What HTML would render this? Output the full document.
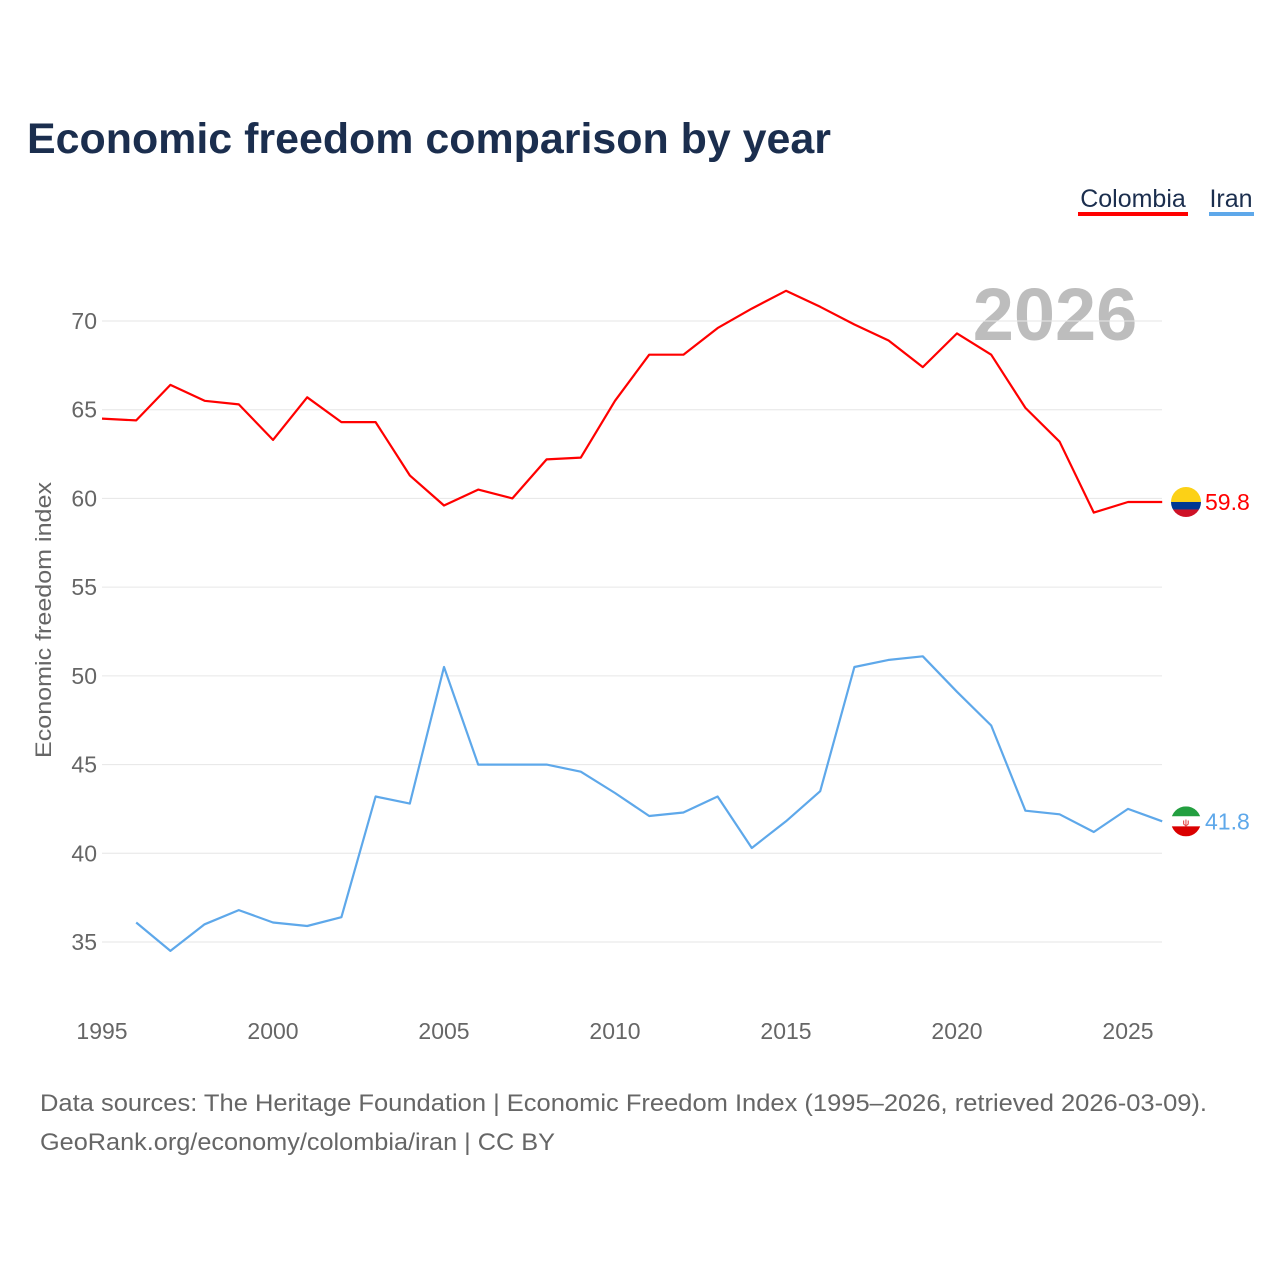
<!DOCTYPE html>
<html><head><meta charset="utf-8">
<style>
body{margin:0;background:#fff;font-family:"Liberation Sans",sans-serif;}
svg{display:block}
</style></head>
<body>
<svg id="chart" width="1280" height="1280" viewBox="0 0 1280 1280">
<text x="27" y="153" font-size="43" font-weight="bold" fill="#1b2e4e" textLength="804" lengthAdjust="spacingAndGlyphs">Economic freedom comparison by year</text>
<g>
<text x="1133" y="207" font-size="25" fill="#1b2e4e" text-anchor="middle">Colombia</text>
<rect x="1078" y="212" width="110" height="4" fill="#ff0000"/>
<text x="1231" y="207" font-size="25" fill="#1b2e4e" text-anchor="middle">Iran</text>
<rect x="1209" y="212" width="45" height="4" fill="#5ea8ea"/>
</g>
<text x="1055" y="340" font-size="74" font-weight="bold" fill="#bdbdbd" text-anchor="middle">2026</text>
<g id="grid"></g>
<g id="series"></g>
<text transform="translate(51,620) rotate(-90)" font-size="22" fill="#666" text-anchor="middle" textLength="276" lengthAdjust="spacingAndGlyphs">Economic freedom index</text>
<text x="40" y="1111" font-size="24" fill="#666" textLength="1167" lengthAdjust="spacingAndGlyphs">Data sources: The Heritage Foundation | Economic Freedom Index (1995–2026, retrieved 2026-03-09).</text>
<text x="40" y="1150" font-size="24" fill="#666" textLength="515" lengthAdjust="spacingAndGlyphs">GeoRank.org/economy/colombia/iran | CC BY</text>
</svg>
<script>
const years=[1995,1996,1997,1998,1999,2000,2001,2002,2003,2004,2005,2006,2007,2008,2009,2010,2011,2012,2013,2014,2015,2016,2017,2018,2019,2020,2021,2022,2023,2024,2025,2026];
const colombia=[64.5,64.4,66.4,65.5,65.3,63.3,65.7,64.3,64.3,61.3,59.6,60.5,60.0,62.2,62.3,65.5,68.1,68.1,69.6,70.7,71.7,70.8,69.8,68.9,67.4,69.3,68.1,65.1,63.2,59.2,59.8,59.8];
const iran=[null,36.1,34.5,36.0,36.8,36.1,35.9,36.4,43.2,42.8,50.5,45.0,45.0,45.0,44.6,43.4,42.1,42.3,43.2,40.3,41.8,43.5,50.5,50.9,51.1,49.1,47.2,42.4,42.2,41.2,42.5,41.8];
const yTicks=[35,40,45,50,55,60,65,70];
const xTicks=[1995,2000,2005,2010,2015,2020,2025];
const NS="http://www.w3.org/2000/svg";
const X=y=>102+(y-1995)*(1026/30);
const Y=v=>321+(70-v)*(621/35);
function mk(tag,attrs,parent,txt){const e=document.createElementNS(NS,tag);for(const k in attrs)e.setAttribute(k,attrs[k]);if(txt!=null)e.textContent=txt;parent.appendChild(e);return e;}
const grid=document.getElementById('grid'),ser=document.getElementById('series');
yTicks.forEach(t=>{
 const l=mk('line',{x1:102,x2:1162,y1:Y(t),y2:Y(t),stroke:'#e6e6e6','stroke-width':1},grid);
 
 
 const tx=mk('text',{x:97,y:Y(t)+8,'font-size':23,fill:'#666','text-anchor':'end'},grid,t);
 
 
});
xTicks.forEach(t=>{
 const tx=mk('text',{x:X(t),y:1039,'font-size':23,fill:'#666','text-anchor':'middle'},grid,t);
 
 
});
function line(vals,color,name){
 let d='';vals.forEach((v,i)=>{if(v==null)return;d+=(d?'L':'M')+X(years[i]).toFixed(1)+','+Y(v).toFixed(1);});
 const p=mk('path',{d:d,fill:'none',stroke:color,'stroke-width':2.2,'stroke-linejoin':'round'},ser);
 
 
 const last=vals[vals.length-1],ly=Y(last);
 const lab=mk('text',{x:1205,y:ly+8,'font-size':23,fill:color},ser,last.toFixed(1));
 
 
 return ly;
}
const cy=line(colombia,'#ff0000','colombia');
const iy=line(iran,'#5ea8ea','iran');
const f1=mk('g',{},ser);


const cp1=mk('clipPath',{id:'c1'},f1);mk('circle',{cx:1186,cy:cy,r:15},cp1);
const g1=mk('g',{'clip-path':'url(#c1)'},f1);
mk('rect',{x:1171,y:cy-15,width:30,height:15,fill:'#fcd116'},g1);
mk('rect',{x:1171,y:cy,width:30,height:7.5,fill:'#003893'},g1);
mk('rect',{x:1171,y:cy+7.5,width:30,height:7.5,fill:'#ce1126'},g1);
const f2=mk('g',{},ser);


const cp=mk('clipPath',{id:'c2'},f2);mk('circle',{cx:1186,cy:iy,r:15},cp);
const g2=mk('g',{'clip-path':'url(#c2)'},f2);
mk('rect',{x:1171,y:iy-15,width:30,height:10,fill:'#239f40'},g2);
mk('rect',{x:1171,y:iy-5,width:30,height:10,fill:'#fff'},g2);
mk('rect',{x:1171,y:iy+5,width:30,height:10,fill:'#da0000'},g2);
mk('text',{x:1186,y:iy+4,'font-size':9,fill:'#da0000','text-anchor':'middle'},g2,'ψ');
</script>
</body></html>
